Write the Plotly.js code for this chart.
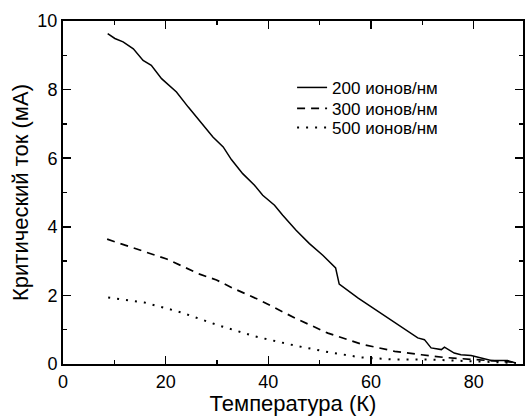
<!DOCTYPE html>
<html>
<head>
<meta charset="utf-8">
<script src="https://cdn.plot.ly/plotly-3.0.1.min.js"></script>
<style>html,body{margin:0;padding:0;background:#fff;}#chart{width:525px;height:416px;}</style>
</head>
<body>
<div id="chart"></div>
<script>
var seriesNames = ["200 ионов/нм", "300 ионов/нм", "500 ионов/нм"];

var t200 = [8.7, 10.1, 11.7, 13.7, 15.6, 17.2, 19.2, 22.1, 24.4, 26.6, 29.2, 31.2, 32.8, 35.0, 37.3, 38.9, 41.2, 42.8, 45.4, 48.0, 50.6, 53.1, 53.8, 57.5, 61.4, 65.9, 69.1, 70.4, 71.7, 73.7, 74.3, 76.2, 77.5, 79.5, 81.4, 83.4, 86.6, 88.2];
var i200 = [9.63, 9.49, 9.39, 9.19, 8.85, 8.71, 8.32, 7.93, 7.49, 7.10, 6.62, 6.33, 5.96, 5.55, 5.21, 4.92, 4.63, 4.34, 3.90, 3.51, 3.17, 2.80, 2.33, 1.92, 1.53, 1.10, 0.76, 0.71, 0.47, 0.42, 0.49, 0.32, 0.27, 0.25, 0.17, 0.10, 0.10, 0.03];

var t300 = [8.6, 13.7, 20.2, 26.6, 29.9, 33.1, 38.5, 45.3, 51.6, 58.1, 64.6, 69.8, 74.3, 80.1, 85.3, 88.2];
var i300 = [3.64, 3.38, 3.06, 2.62, 2.45, 2.21, 1.85, 1.33, 0.90, 0.58, 0.37, 0.27, 0.19, 0.13, 0.08, 0.05];

var t500 = [8.8, 15.9, 20.2, 23.1, 30.0, 37.5, 45.4, 51.6, 58.1, 64.6, 71.1, 77.5, 84.0, 88.2];
var i500 = [1.94, 1.79, 1.62, 1.50, 1.14, 0.80, 0.53, 0.35, 0.19, 0.13, 0.13, 0.10, 0.06, 0.03];

var xTitle = "Температура (К)";
var yTitle = "Критический ток (мА)";
var xRange = [0, 89.6];
var yRange = [0, 10];

var traces = [
  {x: t200, y: i200, name: seriesNames[0], mode: "lines", legend: "legend", line: {color: "#000", width: 1.5}},
  {x: t300, y: i300, name: seriesNames[1], mode: "lines", legend: "legend2", line: {color: "#000", width: 1.7, dash: "8px,6px"}},
  {x: t500, y: i500, name: seriesNames[2], mode: "lines", legend: "legend3", line: {color: "#000", width: 2, dash: "2px,7px"}},
  {x: [], y: [], xaxis: "x2", yaxis: "y2", showlegend: false, hoverinfo: "skip", mode: "lines"}
];

var FONT = "'Liberation Sans', Arial, Helvetica, sans-serif";

function ax(extra) {
  return Object.assign({
    showline: true, linecolor: "#000", linewidth: 2, mirror: true,
    ticks: "inside", ticklen: 8, tickwidth: 1.5, tickcolor: "#000",
    showgrid: false, zeroline: false,
    tickfont: {family: FONT, size: 18, color: "#000"}
  }, extra);
}

function leg(y) {
  return {x: 0.498, y: y, xanchor: "left", yanchor: "middle", bgcolor: "rgba(0,0,0,0)",
          font: {family: FONT, size: 17, color: "#000"}, itemwidth: 30};
}

var layout = {
  width: 525, height: 416,
  margin: {l: 63, r: 2, t: 21, b: 52},
  paper_bgcolor: "#fff", plot_bgcolor: "#fff",
  font: {family: FONT, color: "#000"},
  showlegend: true,
  legend: leg(0.805),
  legend2: leg(0.744),
  legend3: leg(0.688),
  xaxis: ax({
    range: xRange, tick0: 0, dtick: 20,
    minor: {dtick: 10, ticks: "inside", ticklen: 4, tickwidth: 1.5, tickcolor: "#000"},
    title: {text: xTitle, font: {family: FONT, size: 22, color: "#000"}, standoff: 0}
  }),
  yaxis: ax({
    range: yRange, tick0: 0, dtick: 2,
    minor: {dtick: 1, ticks: "inside", ticklen: 4, tickwidth: 1.5, tickcolor: "#000"},
    title: {text: yTitle, font: {family: FONT, size: 22, color: "#000"}, standoff: 3}
  }),
  xaxis2: ax({
    overlaying: "x", side: "top", anchor: "y2", range: xRange, tick0: 0, dtick: 20,
    showticklabels: false, showline: false,
    minor: {dtick: 10, ticks: "inside", ticklen: 4, tickwidth: 1.5, tickcolor: "#000"}
  }),
  yaxis2: ax({
    overlaying: "y", side: "right", anchor: "x2", range: yRange, tick0: 0, dtick: 2,
    showticklabels: false, showline: false,
    minor: {dtick: 1, ticks: "inside", ticklen: 4, tickwidth: 1.5, tickcolor: "#000"}
  })
};

Plotly.newPlot("chart", traces, layout, {displayModeBar: false, staticPlot: true});
</script>
</body>
</html>
